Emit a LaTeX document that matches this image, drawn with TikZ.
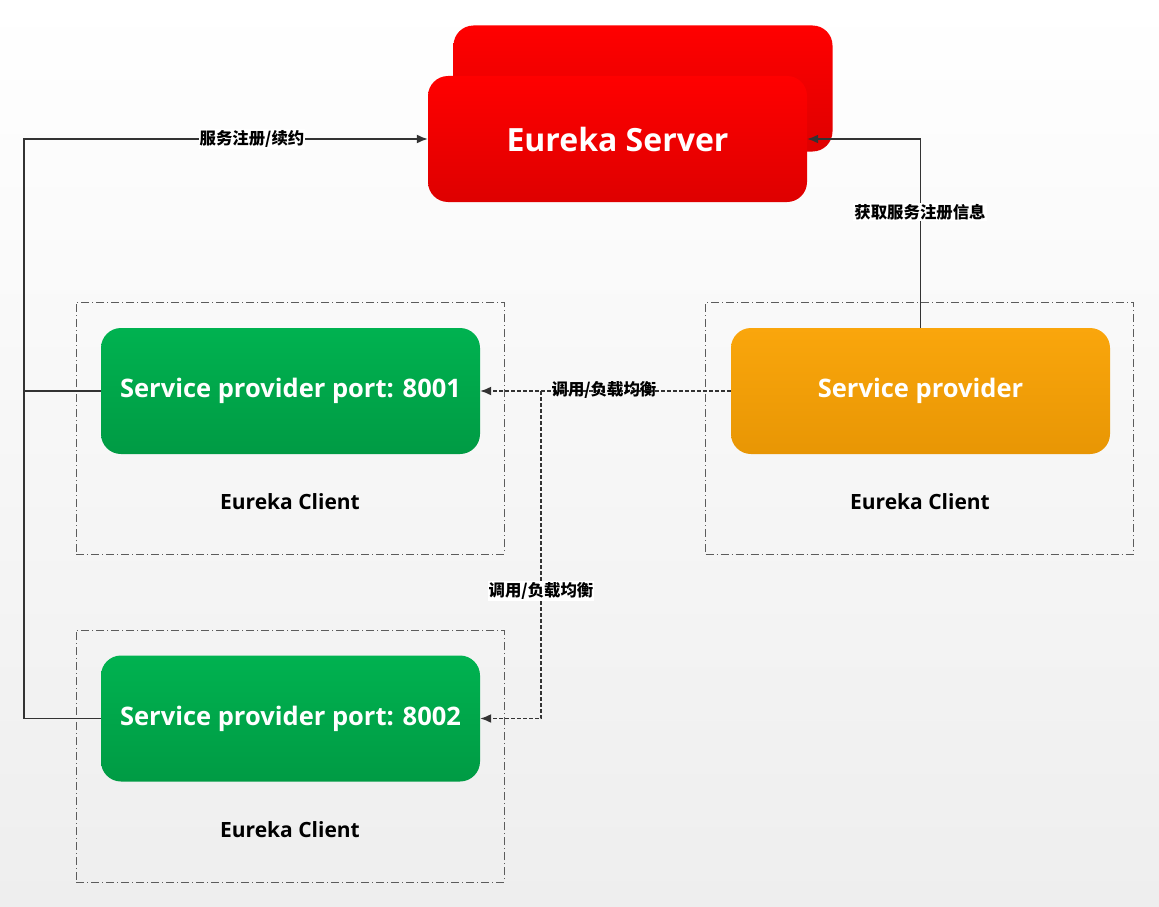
\documentclass[tikz,border=0pt]{standalone}
\usepackage{fontspec}
\setmainfont{Open Sans}
\newfontfamily\cjk{Noto Sans CJK SC}
\usetikzlibrary{arrows.meta}
\definecolor{linec}{HTML}{333333}
\tikzset{
  srv/.style={rounded corners=20pt, minimum width=379pt, minimum height=126pt, top color=red!100, bottom color={rgb,255:red,222;green,0;blue,0}, draw=none, text=white, font=\bfseries\fontsize{32}{38}\selectfont},
  greenbox/.style={rounded corners=20pt, minimum width=379pt, minimum height=126pt, top color={rgb,255:red,0;green,178;blue,80}, bottom color={rgb,255:red,0;green,155;blue,68}, draw=none, text=white, font=\bfseries\fontsize{25.5}{30}\selectfont},
  orangebox/.style={rounded corners=20pt, minimum width=379pt, minimum height=126pt, top color={rgb,255:red,250;green,166;blue,12}, bottom color={rgb,255:red,232;green,150;blue,4}, draw=none, text=white, font=\bfseries\fontsize{25.5}{30}\selectfont},
  client/.style={draw=linec!80, line width=0.8pt, dash pattern=on 8pt off 3pt on 1pt off 3pt, minimum width=428pt, minimum height=252pt},
  clientlabel/.style={font=\bfseries\fontsize{21}{25}\selectfont, text=black},
  conn/.style={draw=linec, line width=1.6pt, -{Latex[length=11pt,width=9pt]}},
  plain/.style={draw=linec, line width=1.6pt},
  dconn/.style={draw=linec, line width=1.6pt, dash pattern=on 4pt off 2pt, -{Latex[length=11pt,width=9pt]}},
  lab/.style={font=\cjk\bfseries\fontsize{16.4}{19}\selectfont, text=black, inner sep=1pt},
}
\begin{document}
\begin{tikzpicture}[x=1pt,y=-1pt]
\shade[top color=white, bottom color={rgb,255:red,238;green,238;blue,238}] (0,0) rectangle (1159,907);
\useasboundingbox (0,0) rectangle (1159,907);
% client frames
\node[client] (c1) at (290,428) {};
\node[client] (c2) at (290,756) {};
\node[client] (c3) at (919.5,428) {};
\node[clientlabel] (cl1) at (290,502) {Eureka Client};
\node[clientlabel] (cl2) at (290,830) {Eureka Client};
\node[clientlabel] (cl3) at (920,502) {Eureka Client};
% server
\node[srv] (serverback) at (643,88.5) {};
\node[srv] (server) at (617.5,139) {Eureka Server};
% providers
\node[greenbox] (p1) at (290.5,391) {Service provider port: 8001};
\node[greenbox] (p2) at (290.5,718.5) {Service provider port: 8002};
\node[orangebox] (sp) at (920.5,391) {Service provider};
% connectors
\coordinate (l1) at (24,391);
\coordinate (l2) at (24,718.5);
\coordinate (ltop) at (24,139);
\draw[plain] (p1.west) -- (l1);
\draw[conn] (p2.west) -- (l2) -- (ltop) -- (server.west);
\node[lab, fill=white] (lab1) at (252,139) {服务注册/续约};
\coordinate (rtop) at (920.5,139);
\draw[conn] (sp.north) -- (rtop) -- (server.east);
\node[lab, fill=white] (lab2) at (920,212) {获取服务注册信息};
\coordinate (split) at (541,391);
\coordinate (split2) at (541,718.5);
\draw[dconn] (sp.west) -- (p1.east);
\draw[dconn] (split) -- (split2) -- (p2.east);
\node[lab] (lab3) at (604,390) {调用/负载均衡};
\node[lab, fill=white] (lab4) at (541,591) {调用/负载均衡};
\end{tikzpicture}
\end{document}
